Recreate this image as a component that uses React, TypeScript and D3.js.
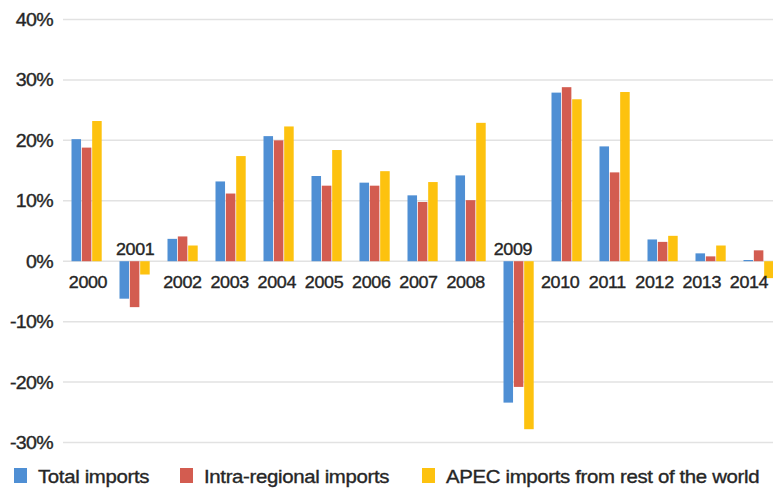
import React from "react";
import * as d3 from "d3";

const years = ["2000","2001","2002","2003","2004","2005","2006","2007","2008","2009","2010","2011","2012","2013","2014"];
const totalImports = [20.2, -6.2, 3.7, 13.2, 20.7, 14.1, 13.0, 10.9, 14.2, -23.4, 27.9, 19.0, 3.6, 1.3, 0.2];
const intraRegional = [18.8, -7.6, 4.1, 11.2, 20.0, 12.5, 12.5, 9.8, 10.1, -20.8, 28.8, 14.7, 3.2, 0.8, 1.8];
const restOfWorld = [23.2, -2.2, 2.6, 17.4, 22.3, 18.4, 14.9, 13.1, 22.9, -27.8, 26.8, 28.0, 4.2, 2.6, -2.8];
const seriesNames = ["Total imports", "Intra-regional imports", "APEC imports from rest of the world"];
const colors = ["#4f8fd4", "#d35c50", "#fdc20f"];
const yTicks = [-30, -20, -10, 0, 10, 20, 30, 40];
const aboveZeroYears = ["2001", "2009"];

const W = 773, H = 488;
const FONT = "'Liberation Sans', Arial, Helvetica, sans-serif";
const SX = 1.12;
const TXT = "#262626";

export default function App() {
  const y = d3.scaleLinear().domain([-30, 40]).range([442.5, 19.5]);
  const x0 = d3.scaleBand<string>().domain(years).range([63, 783]).padding(0);
  const x1 = d3.scaleBand<number>().domain([0, 1, 2]).range([8.5, 39.5]).padding(0);
  const xl = d3.scalePoint<string>().domain(years).range([88, 749]);
  const series = [totalImports, intraRegional, restOfWorld];
  const legendX = [14, 180, 422];

  return (
    <svg width={W} height={H} style={{ position: "absolute", left: 0, top: 0, background: "#fff" }}>
      {yTicks.map((t) => (
        <g key={t}>
          <line x1={63} x2={W} y1={y(t)} y2={y(t)} stroke="#e2e2e2" strokeWidth={1.5} />
          <text
            transform={`translate(53,${y(t) + 6.5}) scale(${SX},1)`}
            textAnchor="end"
            fontFamily={FONT}
            fontSize={17.5}
            fill={TXT}
            stroke={TXT}
            strokeWidth={0.35}
            letterSpacing={-0.6}
          >
            {t}%
          </text>
        </g>
      ))}
      {years.map((yr, i) => (
        <g key={yr} transform={`translate(${x0(yr)},0)`}>
          {series.map((s, k) => {
            const v = s[i];
            const top = y(Math.max(0, v));
            const h = Math.abs(y(v) - y(0));
            return (
              <rect key={k} x={x1(k)} y={top} width={x1.bandwidth() - 0.8} height={Math.max(h, 0.8)} fill={colors[k]} />
            );
          })}
        </g>
      ))}
      {years.map((yr) => (
        <text
          key={"l" + yr}
          transform={`translate(${xl(yr)},${aboveZeroYears.includes(yr) ? y(0) - 6.5 : y(0) + 27}) scale(${SX},1)`}
          textAnchor="middle"
          fontFamily={FONT}
          fontSize={16}
          fill={TXT}
          stroke={TXT}
          strokeWidth={0.35}
          letterSpacing={-0.3}
        >
          {yr}
        </text>
      ))}
      {seriesNames.map((n, k) => (
        <g key={n} transform={`translate(${legendX[k]},0)`}>
          <rect x={0} y={468} width={13} height={15} fill={colors[k]} />
          <text
            transform={`translate(24,482.5) scale(${SX},1)`}
            fontFamily={FONT}
            fontSize={18.2}
            fill={TXT}
            stroke={TXT}
            strokeWidth={0.35}
            letterSpacing={-0.3}
          >
            {n}
          </text>
        </g>
      ))}
    </svg>
  );
}
